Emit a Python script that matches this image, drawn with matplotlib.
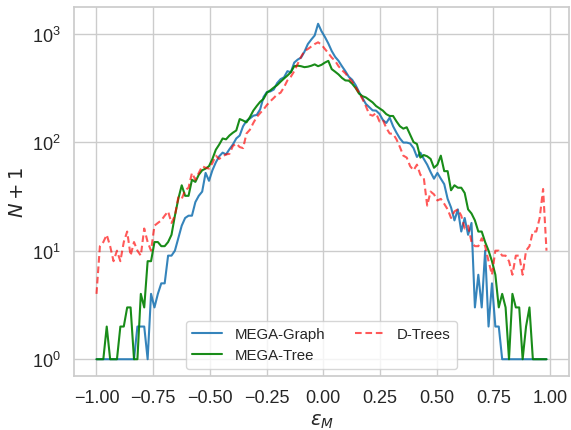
import numpy as np
import matplotlib
matplotlib.use("Agg")
import matplotlib.pyplot as plt
import seaborn as sns

#%% counts (N+1) per error bin, 133 bins on [-1, 1]
mega_graph = [1, 1, 1, 1, 1, 1, 1, 1, 1, 1, 1, 1, 2, 2, 2, 1, 4, 3, 4, 5,
              5, 9, 9, 10, 13, 17, 20, 21, 21, 28, 32, 35, 52, 44, 55, 65, 74, 80, 77, 86,
              95, 108, 115, 140, 157, 165, 175, 178, 200, 260, 290, 293, 305, 350, 380, 395, 450, 440, 540, 575,
              600, 680, 800, 880, 960, 1230, 1050, 930, 810, 690, 610, 560, 500, 450, 400, 375, 335, 290, 255, 225,
              210, 196, 195, 182, 160, 150, 168, 140, 122, 108, 99, 99, 97, 88, 73, 80, 70, 62, 53, 46,
              52, 46, 41, 30, 25, 19, 24, 15, 20, 14, 18, 3, 6, 3, 10, 2, 5, 2, 2, 1,
              1, 1, 1, 1, 1, 1, 1, 1, 1, 1, 1, 1, 1]
mega_tree = [1, 1, 1, 2, 1, 1, 1, 2, 2, 3, 3, 1, 1, 4, 3, 8, 8, 12, 12, 11,
             11, 12, 14, 21, 30, 40, 32, 32, 45, 43, 50, 55, 57, 60, 70, 85, 95, 108, 106, 115,
             122, 128, 163, 158, 152, 170, 195, 215, 235, 250, 285, 300, 318, 335, 360, 385, 410, 440, 500, 506,
             500, 490, 495, 505, 520, 500, 515, 540, 560, 470, 445, 420, 390, 370, 368, 345, 315, 280, 265, 258,
             245, 232, 215, 205, 195, 181, 174, 174, 155, 140, 133, 137, 117, 100, 96, 72, 76, 74, 70, 58,
             62, 75, 54, 54, 36, 40, 38, 38, 34, 24, 22, 19, 15, 15, 12, 10, 8, 6, 3, 4,
             3, 1, 4, 3, 3, 1, 2, 3, 1, 1, 1, 1, 1]
d_trees = [4, 11, 12, 14, 11, 8, 10, 8, 12, 15, 9, 12, 10, 9, 16, 12, 10, 17, 18, 19,
           21, 23, 18, 21, 31, 30, 36, 38, 52, 45, 52, 60, 58, 57, 64, 75, 70, 74, 77, 78,
           92, 97, 90, 88, 120, 130, 150, 170, 185, 200, 220, 238, 255, 275, 285, 320, 370, 400, 450, 525,
           610, 690, 720, 760, 800, 830, 790, 720, 660, 600, 560, 500, 460, 430, 390, 360, 320, 285, 250, 215,
           180, 175, 185, 155, 160, 135, 120, 119, 106, 90, 75, 72, 60, 55, 62, 50, 47, 26, 35, 33,
           29, 30, 27, 24, 20, 23, 24, 21, 16, 17, 12, 11, 11, 13, 11, 8, 6, 10, 10, 9,
           9, 8, 6, 9, 9, 6, 10, 11, 15, 15, 20, 37, 10]

# left edges of the bins
eps = np.linspace(-1, 1, len(mega_graph) + 1)[:-1]

sns.set_theme(style="whitegrid")
plt.rcParams["font.family"] = ["Liberation Sans", "DejaVu Sans"]

fig, ax = plt.subplots(figsize=(5.71, 4.31), dpi=100)
fig.subplots_adjust(left=74/571, right=569/571, top=1-8/431, bottom=1-377/431)

ax.plot(eps, mega_graph, color="tab:blue", alpha=0.9, lw=1.5, label="MEGA-Graph")
ax.plot(eps, mega_tree, color="green", alpha=0.9, lw=1.5, label="MEGA-Tree")
ax.plot(eps, d_trees, "--", color="red", alpha=0.65, lw=1.5, dashes=(3.2, 1.8), label="D-Trees")
ax.set_yscale("log")

ax.set_xticks([-1.0, -0.75, -0.5, -0.25, 0.0, 0.25, 0.5, 0.75, 1.0])
ax.tick_params(labelsize=13)
ax.set_xlabel(r"$\epsilon_M$", fontsize=14)
ax.set_ylabel(r"$N+1$", fontsize=14)
ax.legend(loc="lower center", ncol=2, fontsize=10.8)

fig.savefig("out.png", dpi=100)
